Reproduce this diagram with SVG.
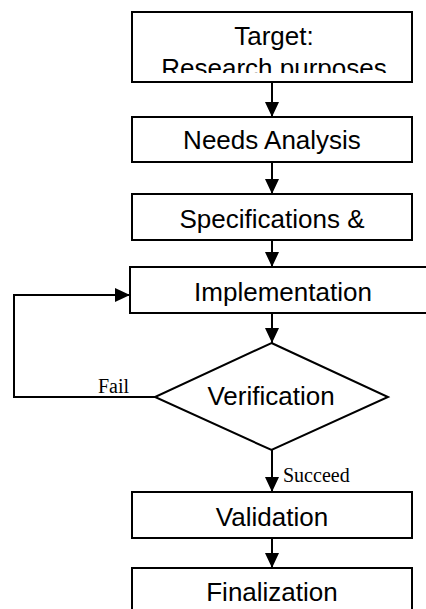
<svg xmlns="http://www.w3.org/2000/svg" width="426" height="609" viewBox="0 0 426 609">
  <style>
    .box { fill: #ffffff; stroke: #000000; stroke-width: 2; }
    .label { font-family: "Liberation Sans", Arial, sans-serif; font-size: 26px; fill: #000000; text-anchor: middle; }
    .edge { fill: none; stroke: #000000; stroke-width: 2; }
    .edge-label { font-family: "Liberation Serif", "Times New Roman", serif; font-size: 20px; fill: #000000; }
  </style>
  <defs>
    <marker id="arrow" markerUnits="userSpaceOnUse" markerWidth="16" markerHeight="16" viewBox="0 0 16 16" refX="15" refY="8" orient="auto">
      <path d="M0,1 L15,8 L0,15 Z" fill="#000000"/>
    </marker>
    <clipPath id="target-clip">
      <rect x="133" y="13" width="278" height="60"/>
    </clipPath>
  </defs>
  <rect width="426" height="609" fill="#ffffff"/>

  <!-- nodes -->
  <g id="target">
    <rect class="box" x="132" y="12" width="280" height="70"/>
    <g clip-path="url(#target-clip)">
      <text class="label" x="274" y="45">Target:</text>
      <text class="label" x="274" y="77">Research purposes</text>
    </g>
  </g>
  <g id="needs-analysis">
    <rect class="box" x="132" y="117" width="280" height="45"/>
    <text class="label" x="272" y="149">Needs Analysis</text>
  </g>
  <g id="specifications">
    <rect class="box" x="132" y="194" width="280" height="46"/>
    <text class="label" x="272" y="228">Specifications &amp;</text>
  </g>
  <g id="implementation">
    <rect class="box" x="130" y="267" width="310" height="46"/>
    <text class="label" x="283" y="301">Implementation</text>
  </g>
  <g id="verification">
    <polygon class="box" points="271.5,343 388,397 271.5,450 155,397"/>
    <text class="label" x="271" y="405">Verification</text>
  </g>
  <g id="validation">
    <rect class="box" x="132" y="492" width="280" height="46"/>
    <text class="label" x="272" y="526">Validation</text>
  </g>
  <g id="finalization">
    <rect class="box" x="132" y="568" width="280" height="46"/>
    <text class="label" x="272" y="601">Finalization</text>
  </g>

  <!-- connectors -->
  <g id="connectors">
    <line class="edge" x1="272" y1="82" x2="272" y2="117" marker-end="url(#arrow)"/>
    <line class="edge" x1="272" y1="162" x2="272" y2="194" marker-end="url(#arrow)"/>
    <line class="edge" x1="272" y1="240" x2="272" y2="267" marker-end="url(#arrow)"/>
    <line class="edge" x1="272" y1="313" x2="272" y2="343" marker-end="url(#arrow)"/>
    <polyline class="edge" points="155,397 14,397 14,295 130,295" marker-end="url(#arrow)"/>
    <text class="edge-label" x="98" y="393">Fail</text>
    <line class="edge" x1="272" y1="450" x2="272" y2="492" marker-end="url(#arrow)"/>
    <text class="edge-label" x="283" y="482">Succeed</text>
    <line class="edge" x1="272" y1="538" x2="272" y2="568" marker-end="url(#arrow)"/>
  </g>
</svg>
